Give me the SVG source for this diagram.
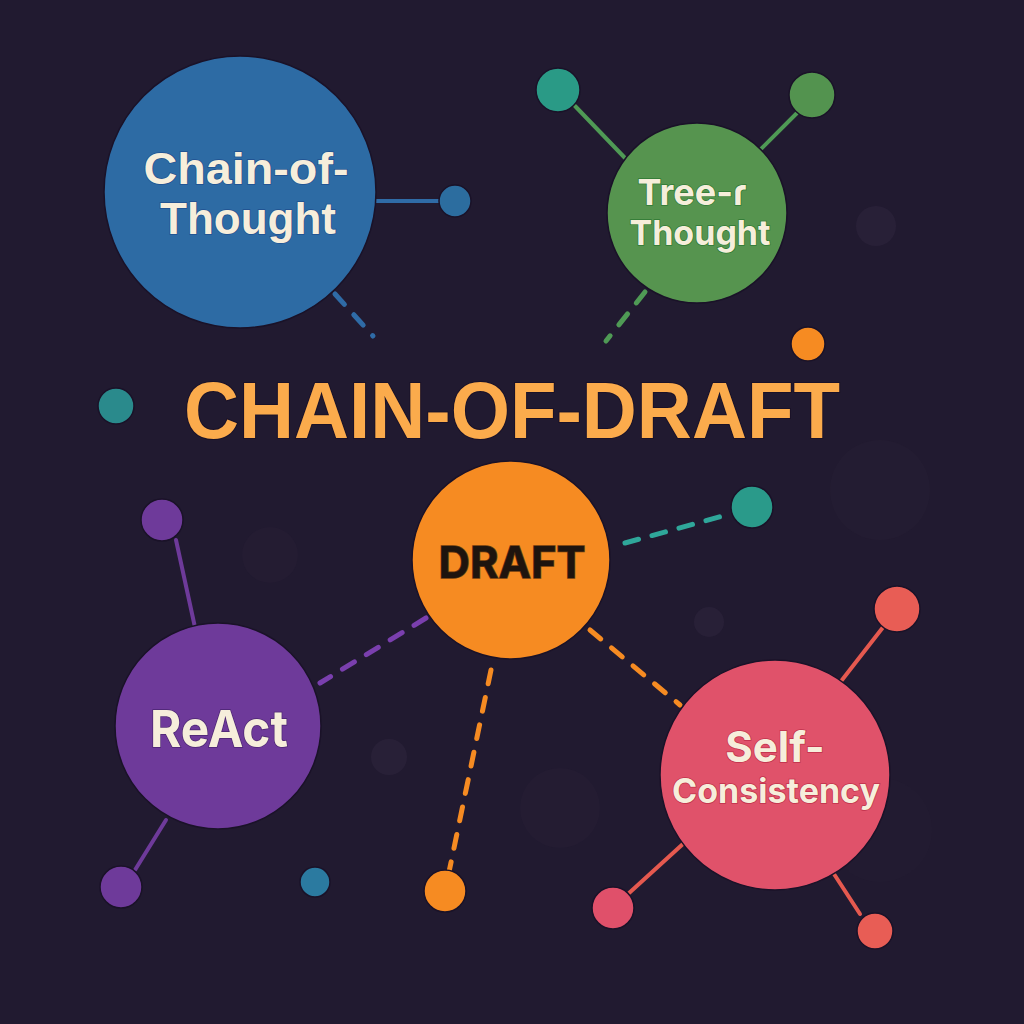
<svg xmlns="http://www.w3.org/2000/svg" width="1024" height="1024" viewBox="0 0 1024 1024">
<style>
.bg{fill:#211a30}
.faint{fill:#2a2239}
.lbl{font-family:Inter,"Open Sans","Liberation Sans",sans-serif;font-weight:700;fill:#f6eedb;text-anchor:middle;stroke-width:1.5;paint-order:stroke}
.lbl2{font-family:"Liberation Sans",Arial,sans-serif}
.title{font-family:"Liberation Sans",Arial,sans-serif;font-weight:700;fill:#fbab4c;stroke:#1a1228;stroke-width:2;paint-order:stroke;text-anchor:middle}
.solid{stroke-width:4;stroke-linecap:round;fill:none}
.dash{stroke-width:5;stroke-linecap:round;stroke-dasharray:14 14;fill:none}
.node{stroke:#1a1228;stroke-width:1.5}
</style>
<rect class="bg" x="0" y="0" width="1024" height="1024"/>
<g id="background">
<circle class="faint" cx="876" cy="226" r="20" opacity="0.8"/>
<circle class="faint" cx="389" cy="757" r="18" opacity="0.8"/>
<circle class="faint" cx="709" cy="622" r="15" opacity="0.8"/>
<circle class="faint" cx="560" cy="808" r="40" opacity="0.3"/>
<circle class="faint" cx="880" cy="490" r="50" opacity="0.25"/>
<circle class="faint" cx="270" cy="555" r="28" opacity="0.3"/>
<circle class="faint" cx="880" cy="830" r="52" opacity="0.2"/>
</g>
<g id="connectors">
<line class="solid" x1="376" y1="201" x2="440" y2="201" stroke="#2f6ba6"/>
<line class="dash" x1="335" y1="294" x2="373" y2="336" stroke="#2f6ba6" stroke-dasharray="10 14"/>
<line class="solid" x1="575" y1="106" x2="625" y2="158" stroke="#4f9a55"/>
<line class="solid" x1="798" y1="112" x2="758" y2="152" stroke="#4f9a55"/>
<line class="dash" x1="645" y1="292" x2="606" y2="341" stroke="#4f9a55" stroke-dasharray="10 14"/>
<line class="dash" x1="625" y1="543" x2="730" y2="514" stroke="#2fa79a" stroke-dasharray="14 12"/>
<line class="dash" x1="426" y1="618" x2="320" y2="683" stroke="#7a3fae" stroke-dasharray="14 12"/>
<line class="dash" x1="491" y1="670" x2="449" y2="872" stroke="#f68b22" stroke-dasharray="14 12"/>
<line class="dash" x1="590" y1="630" x2="680" y2="705" stroke="#f68b22" stroke-dasharray="14 12"/>
<line class="solid" x1="176" y1="540" x2="196" y2="632" stroke="#6e3a9a"/>
<line class="solid" x1="135" y1="870" x2="166" y2="820" stroke="#6e3a9a"/>
<line class="solid" x1="884" y1="626" x2="842" y2="680" stroke="#e5594f"/>
<line class="solid" x1="628" y1="894" x2="684" y2="843" stroke="#e5594f"/>
<line class="solid" x1="860" y1="914" x2="834" y2="874" stroke="#e5594f"/>
</g>
<g id="chain-of-thought">
<circle class="node" cx="240" cy="192" r="136" fill="#2d6ba4"/>
<text class="lbl lbl2" x="246" y="184" font-size="44" stroke="#1f4f90" textLength="205" lengthAdjust="spacingAndGlyphs">Chain-of-</text>
<text class="lbl lbl2" x="248" y="234" font-size="44" stroke="#1f4f90" textLength="176" lengthAdjust="spacingAndGlyphs">Thought</text>
</g>
<g id="cot-dot"><circle class="node" cx="455" cy="201" r="16" fill="#2c6d9f"/></g>
<g id="tree-of-thought">
<circle class="node" cx="697" cy="213" r="90" fill="#56944f"/>
<text class="lbl" stroke="#2f7a35"><tspan x="692" y="205" font-size="36">Tree-ɾ</tspan><tspan x="700" y="245" font-size="34">Thought</tspan></text>
</g>
<g id="tot-dot-teal"><circle class="node" cx="558" cy="90" r="22" fill="#2a9a86"/></g>
<g id="tot-dot-green"><circle class="node" cx="812" cy="95" r="23" fill="#53934f"/></g>
<g id="orange-dot"><circle class="node" cx="808" cy="344" r="17" fill="#f68b22"/></g>
<g id="teal-dot-left"><circle class="node" cx="116" cy="406" r="18" fill="#2a8a8c"/></g>
<g id="title">
<text class="title" x="512" y="438" font-size="80" textLength="656" lengthAdjust="spacingAndGlyphs">CHAIN-OF-DRAFT</text>
</g>
<g id="draft">
<circle class="node" cx="511" cy="560" r="99" fill="#f68b22"/>
<text class="lbl" x="512" y="578" font-size="44" stroke="#6a3a10" stroke-width="0.5" textLength="147" lengthAdjust="spacingAndGlyphs" style="fill:#1e140e">DRAFT</text>
</g>
<g id="draft-dot-teal"><circle class="node" cx="752" cy="507" r="21" fill="#2a9a8a"/></g>
<g id="draft-dot-orange"><circle class="node" cx="445" cy="891" r="21" fill="#f68b22"/></g>
<g id="react">
<circle class="node" cx="218" cy="726" r="103" fill="#6e3a9a"/>
<text class="lbl" x="219" y="747" font-size="51" stroke="#4a2470" textLength="138" lengthAdjust="spacingAndGlyphs">ReAct</text>
</g>
<g id="react-dot-top"><circle class="node" cx="162" cy="520" r="21" fill="#6e3a9a"/></g>
<g id="react-dot-bottom"><circle class="node" cx="121" cy="887" r="21" fill="#6e3a9a"/></g>
<g id="teal-dot-bottom"><circle class="node" cx="315" cy="882" r="15" fill="#2b7aa0"/></g>
<g id="self-consistency">
<circle class="node" cx="775" cy="775" r="115" fill="#e0526a"/>
<text class="lbl" stroke="#c0304a"><tspan x="775" y="762" font-size="42">Self-</tspan><tspan x="776" y="803" font-size="34">Consistency</tspan></text>
</g>
<g id="sc-dot-top"><circle class="node" cx="897" cy="609" r="23" fill="#e85d55"/></g>
<g id="sc-dot-left"><circle class="node" cx="613" cy="908" r="21" fill="#e0506a"/></g>
<g id="sc-dot-bottom"><circle class="node" cx="875" cy="931" r="18" fill="#e85d55"/></g>
</svg>
